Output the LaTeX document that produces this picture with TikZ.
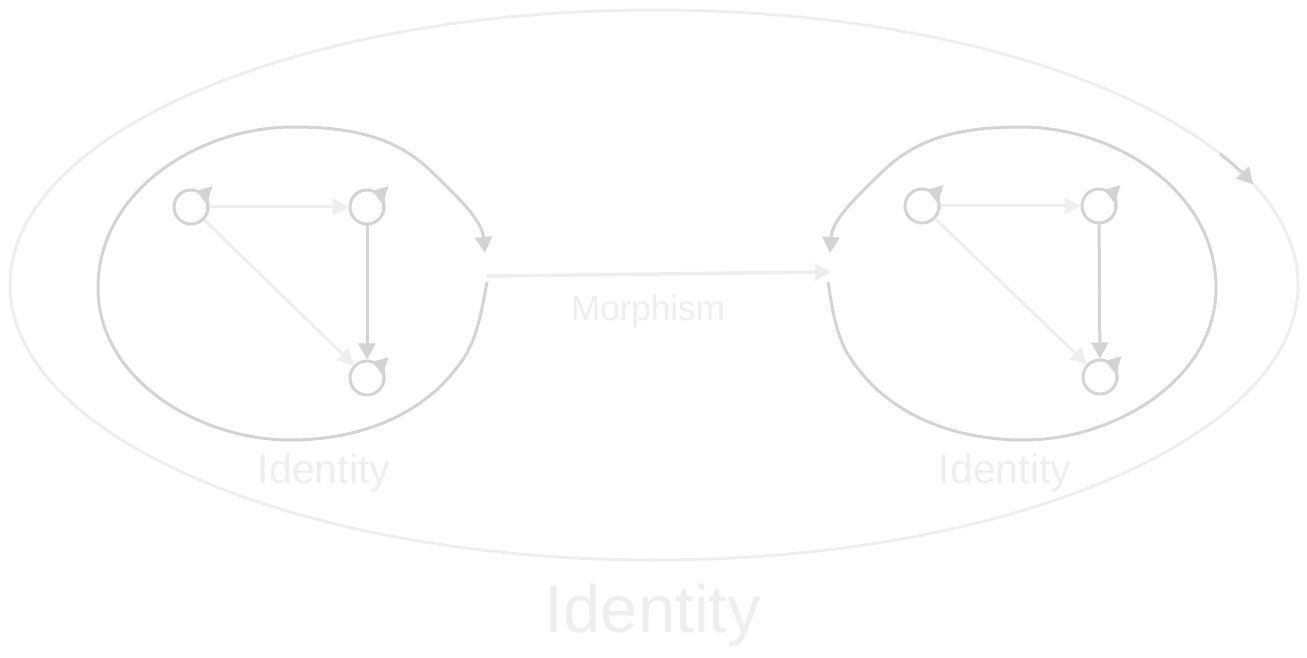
\documentclass[tikz,border=0pt]{standalone}
\usepackage{fontspec}
\setmainfont{Liberation Sans}
\usetikzlibrary{arrows.meta,calc,shapes.geometric}
\definecolor{pale}{HTML}{EEEEEE}
\definecolor{mid}{HTML}{D3D3D3}
\tikzset{
  obj/.style={circle,draw=mid,line width=3pt,minimum size=34pt,inner sep=0pt},
  arr/.style={line width=3pt,-{Triangle[length=16pt,width=17pt]}},
  faint/.style={arr,draw=pale,color=pale},
  strong/.style={arr,draw=mid,color=mid},
  loophead/.style={line width=3pt,mid,-{Triangle[length=14pt,width=18pt]}},
  blob/.style={line width=3pt,draw=mid},
  tag/.style={text=pale,inner sep=0pt,anchor=base}
}
\begin{document}
\begin{tikzpicture}[x=1pt,y=1pt]
\useasboundingbox (0,0) rectangle (1307,657);
\node[ellipse,draw=pale,line width=3pt,minimum width=1288pt,minimum height=550pt,inner sep=0pt,outer sep=0pt] (cat) at (654,372) {};
\draw[strong] ($(cat.center)+(28.5:644pt and 275pt)$) arc[start angle=28.5,end angle=21.5,x radius=644pt,y radius=275pt];
\node[tag,font=\fontsize{67}{67}\selectfont] (catlabel) at (653,25) {Identity};
\node[obj] (A) at (191,450) {};
\node[obj] (B) at (367,450) {};
\node[obj] (C) at (367,279) {};
\node[obj] (D) at (922,451) {};
\node[obj] (E) at (1099,451) {};
\node[obj] (F) at (1100,280) {};
\draw[faint] (A) -- (B);
\draw[faint] (A) -- (C);
\draw[strong] (B) -- (C);
\draw[faint] (D) -- (E);
\draw[faint] (D) -- (F);
\draw[strong] (E) -- (F);
\foreach \n in {A,B,C,D,E,F}
  \draw[loophead] (\n.center) ++(-10:17pt) arc[start angle=-10,end angle=72,radius=17pt];
\coordinate (lstart) at (487,375);
\coordinate (lend) at (485,404);
\coordinate (rstart) at (828,375);
\coordinate (rend) at (830,404);
\coordinate (src) at (487,381);
\coordinate (tgt) at (831,385);
\draw[blob,strong] (lstart) .. controls (480,337) and (476,312) .. (455,287)
  .. controls (420,242) and (360,217) .. (290,217)
  .. controls (200,217) and (98,277) .. (98,369)
  .. controls (98,467) and (200,530) .. (293,530)
  .. controls (365,530) and (402,514) .. (432,485)
  .. controls (462,456) and (482,436) .. (lend);
\draw[blob,strong] (rstart) .. controls (834,337) and (838,312) .. (859,287)
  .. controls (894,242) and (954,217) .. (1024,217)
  .. controls (1114,217) and (1216,277) .. (1216,369)
  .. controls (1216,467) and (1114,530) .. (1021,530)
  .. controls (949,530) and (912,514) .. (882,485)
  .. controls (852,456) and (832,436) .. (rend);
\node[tag,font=\fontsize{41}{41}\selectfont] (llabel) at (324,174) {Identity};
\node[tag,font=\fontsize{41}{41}\selectfont] (rlabel) at (1005,174) {Identity};
\draw[faint,line width=3.5pt] (src) -- (tgt);
\node[tag,font=\fontsize{35}{35}\selectfont] (mlabel) at (648,336) {Morphism};
\end{tikzpicture}
\end{document}
